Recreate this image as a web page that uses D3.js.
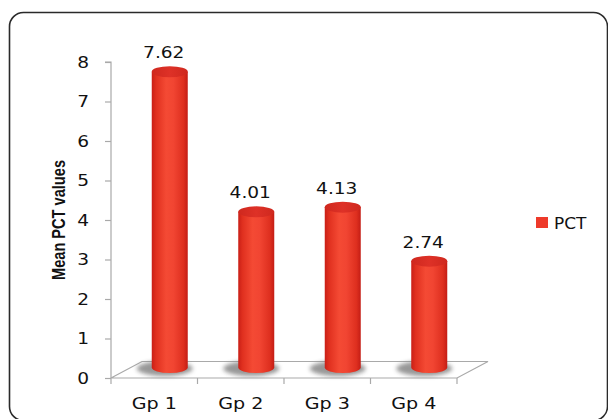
<!DOCTYPE html>
<html><head><meta charset="utf-8">
<script src="https://cdn.jsdelivr.net/npm/d3@7"></script>
<style>
html,body{margin:0;padding:0;background:#fff;}
svg{display:block;}
</style></head>
<body>
<script>
const categories = ["Gp 1", "Gp 2", "Gp 3", "Gp 4"];
const values = [7.62, 4.01, 4.13, 2.74];
const valueLabels = ["7.62", "4.01", "4.13", "2.74"];
const yTicks = [0, 1, 2, 3, 4, 5, 6, 7, 8];
const seriesName = "PCT";

const W = 608, H = 419;
const FONT = "DejaVu Sans, Verdana, sans-serif";
const SX = 1.16; // horizontal stretch of text glyphs
const svg = d3.select("body").append("svg").attr("width", W).attr("height", H);

// frame
svg.append("rect").attr("x", 9.5).attr("y", 12.5).attr("width", 598).attr("height", 408)
  .attr("rx", 14).attr("fill", "#fff").attr("stroke", "#2a2a2a").attr("stroke-width", 1.6);

const defs = svg.append("defs");
const g1 = defs.append("linearGradient").attr("id", "cyl").attr("x1", "0").attr("x2", "1").attr("y1", "0").attr("y2", "0");
[[0, "#c91f16"], [0.12, "#e0301f"], [0.4, "#f44a34"], [0.6, "#f14532"], [0.88, "#de2f1f"], [1, "#c41d15"]]
  .forEach(([o, c]) => g1.append("stop").attr("offset", o).attr("stop-color", c));
const g2 = defs.append("linearGradient").attr("id", "cyltop").attr("x1", "0").attr("x2", "1").attr("y1", "0").attr("y2", "0");
[[0, "#cf281e"], [0.5, "#de3127"], [1, "#cf281e"]]
  .forEach(([o, c]) => g2.append("stop").attr("offset", o).attr("stop-color", c));
defs.append("filter").attr("id", "blur").attr("x", "-50%").attr("y", "-100%").attr("width", "200%").attr("height", "300%")
  .append("feGaussianBlur").attr("stdDeviation", 2.2);

// scales
const x = d3.scaleBand().domain(categories).range([111, 457]).padding(0);
const yAxisScale = d3.scaleLinear().domain([0, 8]).range([378, 62]);
const yBar = d3.scaleLinear().domain([0, 8]).range([367.5, 57]);
const depthX = 31, depthY = -16.5;
const grey = "#a9a9a9";

// floor
const fl = [[x.range()[0], yAxisScale(0)], [x.range()[1], yAxisScale(0)],
  [x.range()[1] + depthX, yAxisScale(0) + depthY], [x.range()[0] + depthX, yAxisScale(0) + depthY]];
svg.append("path").attr("d", "M" + fl.map(p => p.join(",")).join("L") + "Z")
  .attr("fill", "none").attr("stroke", grey).attr("stroke-width", 1.2);

// y axis
const yAx = svg.append("g").attr("transform", "translate(111,0)")
  .call(d3.axisLeft(yAxisScale).tickValues(yTicks).tickSize(6).tickPadding(13).tickFormat(d3.format("d")));
yAx.select(".domain").attr("stroke", grey).attr("stroke-width", 1.2).attr("d", `M-6,${yAxisScale(8)}H0V${yAxisScale(0)}`);
yAx.selectAll(".tick line").attr("stroke", grey).attr("stroke-width", 1.2);
yAx.selectAll(".tick text").attr("font-family", FONT).attr("font-size", 16).attr("fill", "#111")
  .attr("transform", `scale(${SX},1)`);

// x axis
const xAx = svg.append("g").attr("transform", `translate(0,${yAxisScale(0)})`)
  .call(d3.axisBottom(x).tickSize(0).tickPadding(19));
xAx.select(".domain").remove();
xAx.selectAll(".tick text").attr("font-family", FONT).attr("font-size", 16.5).attr("fill", "#111")
  .attr("transform", `scale(${SX},1)`);
const bounds = categories.map(c => x(c)).concat([x.range()[1]]);
svg.append("g").selectAll("line").data(bounds).join("line")
  .attr("x1", d => d).attr("x2", d => d).attr("y1", yAxisScale(0)).attr("y2", yAxisScale(0) + 6)
  .attr("stroke", grey).attr("stroke-width", 1.2);

// bars (cylinders)
const bw = 36, rx = bw / 2, ry = 5.5;
const bars = svg.append("g").selectAll("g").data(values).join("g");
bars.each(function (v, i) {
  const g = d3.select(this);
  const cx = x(categories[i]) + x.bandwidth() / 2 + depthX / 2;
  const y0 = yBar(0), yt = yBar(v);
  g.append("ellipse").attr("cx", cx - 5).attr("cy", y0 + 1).attr("rx", rx + 10).attr("ry", ry + 2)
    .attr("fill", "#7e7e7e").attr("opacity", 0.8).attr("filter", "url(#blur)");
  g.append("path")
    .attr("d", `M${cx - rx},${yt}L${cx - rx},${y0}A${rx},${ry} 0 0 0 ${cx + rx},${y0}L${cx + rx},${yt}Z`)
    .attr("fill", "url(#cyl)");
  g.append("ellipse").attr("cx", cx).attr("cy", yt).attr("rx", rx).attr("ry", ry).attr("fill", "url(#cyltop)");
  g.append("text").attr("transform", `translate(${cx - 6},${yt - 13.5}) scale(${SX},1)`).attr("text-anchor", "middle")
    .attr("font-family", FONT).attr("font-size", 16).attr("fill", "#111")
    .text(valueLabels[i]);
});

// y label
svg.append("text").attr("transform", "translate(65,220) rotate(-90)").attr("text-anchor", "middle")
  .attr("font-family", "Liberation Sans, Arial, sans-serif").attr("font-weight", "bold")
  .attr("font-size", 19).attr("fill", "#111")
  .attr("textLength", 120).attr("lengthAdjust", "spacingAndGlyphs").text("Mean PCT values");

// legend
svg.append("rect").attr("x", 536).attr("y", 217).attr("width", 12).attr("height", 11).attr("fill", "#ee3a2a");
svg.append("text").attr("transform", `translate(554,228.5) scale(1.06,1)`).attr("font-family", FONT)
  .attr("font-size", 16).attr("fill", "#111").text(seriesName);
</script>
</body></html>
